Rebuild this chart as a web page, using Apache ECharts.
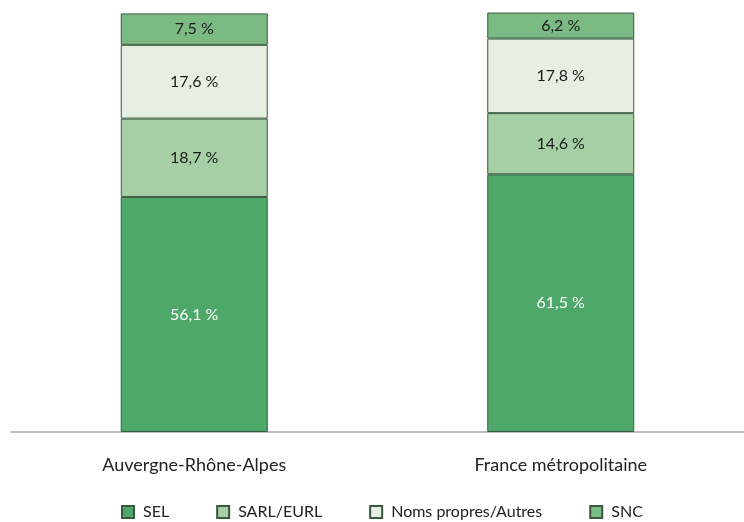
<!DOCTYPE html>
<html><head><meta charset="utf-8">
<script src="https://cdn.jsdelivr.net/npm/echarts@6/dist/echarts.min.js"></script>
<style>html,body{margin:0;padding:0;background:#fff}#c{width:744px;height:522px}</style>
</head><body><div id="c"></div>
<script>
const categories = ['Auvergne-Rhône-Alpes', 'France métropolitaine'];
const seriesNames = ['SEL', 'SARL/EURL', 'Noms propres/Autres', 'SNC'];
const SEL = [56.1, 61.5];
const SARL = [18.7, 14.6];
const NOMS = [17.6, 17.8];
const SNC = [7.5, 6.2];
const colors = ['#4EA869', '#A6CFA6', '#E6EFE1', '#7CBA83'];
const labelColors = ['#ffffff', '#1a1a1a', '#1a1a1a', '#1a1a1a'];
const values = [SEL, SARL, NOMS, SNC];
const fmt = v => String(v.toFixed(1)).replace('.', ',') + ' %';
const chart = echarts.init(document.getElementById('c'));
chart.setOption({
  animation: false,
  grid: {left: 11, right: -4, top: 13, bottom: 90},
  xAxis: {
    type: 'category', data: categories,
    axisLine: {lineStyle: {color: '#bdbdbd', width: 2}},
    axisTick: {show: false},
    axisLabel: {color: '#222', fontFamily: 'Lato', fontSize: 18, margin: 24}
  },
  yAxis: {type: 'value', min: 0, max: 100, show: false},
  legend: {
    left: 116, top: 499, itemWidth: 12, itemHeight: 12, itemGap: 47,
    icon: 'rect',
    textStyle: {color: '#222', fontFamily: 'Lato', fontSize: 16, padding: [0, 0, 0, 4]},
    data: seriesNames
  },
  series: seriesNames.map((n, i) => ({
    name: n, type: 'bar', stack: 'a', barWidth: 147,
    data: values[i],
    itemStyle: {color: colors[i], borderColor: '#3a5a40', borderWidth: 1},
    label: {show: true, position: 'inside', color: labelColors[i], fontFamily: 'Lato', fontSize: 16,
      formatter: p => fmt(p.value)}
  }))
});
</script></body></html>
